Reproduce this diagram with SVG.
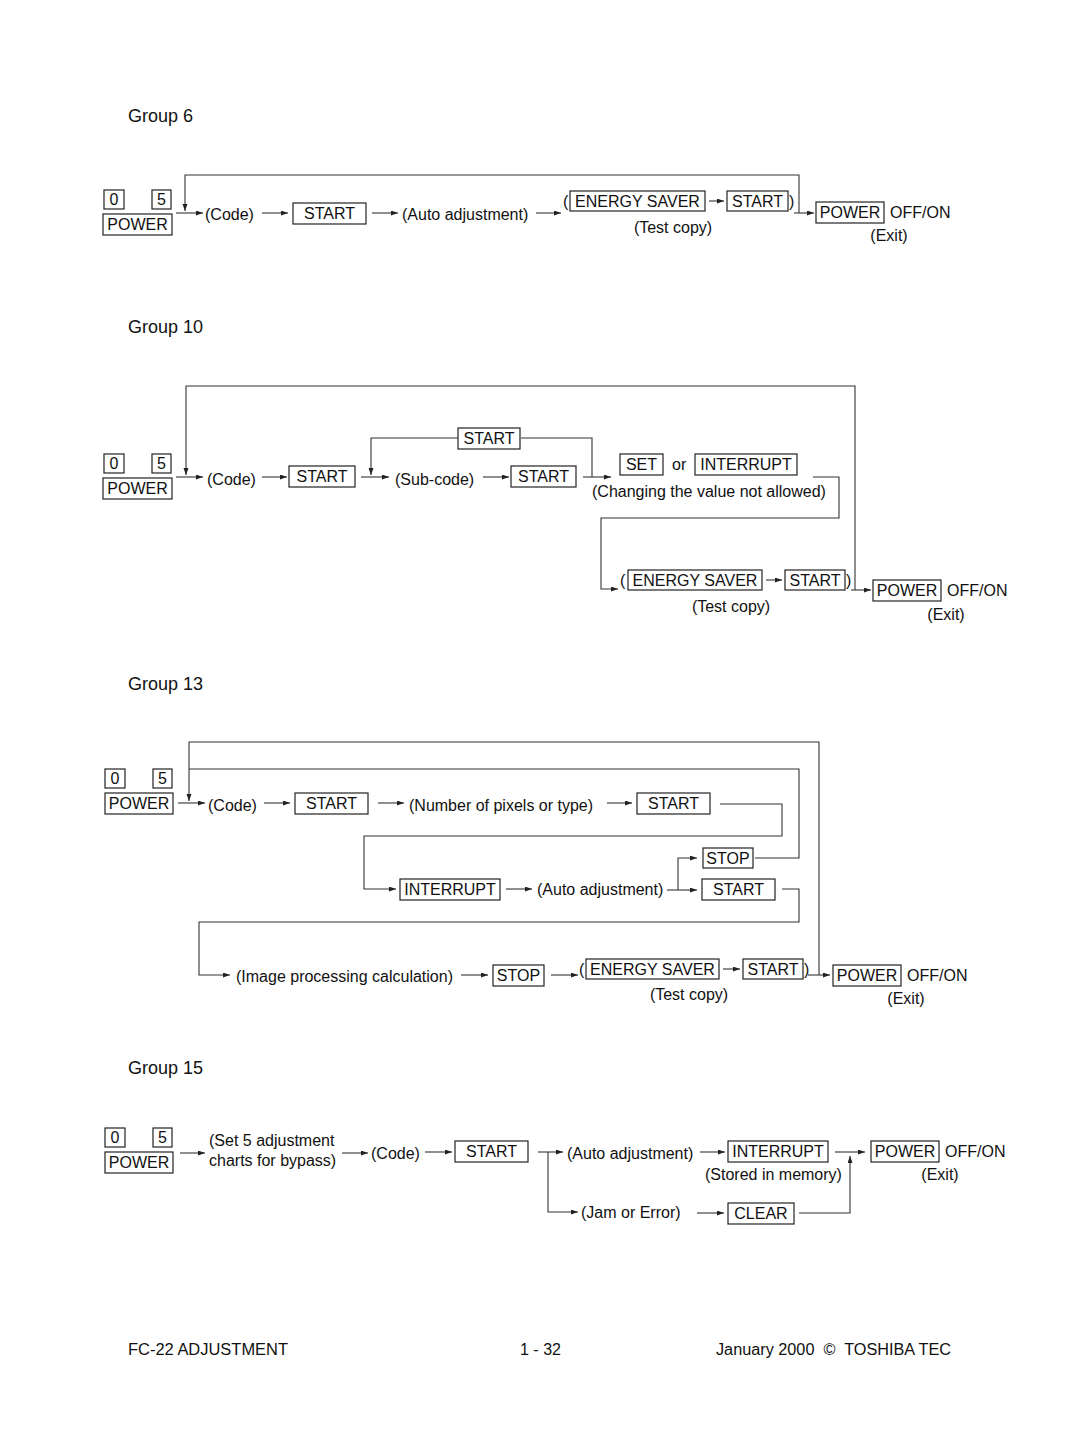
<svg xmlns="http://www.w3.org/2000/svg" width="1080" height="1439" viewBox="0 0 1080 1439">
<defs>
<marker id="ah" markerUnits="userSpaceOnUse" markerWidth="8" markerHeight="6" refX="7" refY="2.5" orient="auto">
<path d="M0,0 L7,2.5 L0,5 z" fill="#222"/>
</marker>
<style>
text{font-family:"Liberation Sans",Arial,sans-serif;font-size:16px;fill:#111}
.g{font-size:18px}
.b{fill:none;stroke:#222;stroke-width:1.2}
.bt{text-anchor:middle}
.c{text-anchor:middle}
.ln{fill:none;stroke:#333;stroke-width:1.1}
.ar{fill:none;stroke:#333;stroke-width:1.1;marker-end:url(#ah)}
</style>
</defs>
<rect width="1080" height="1439" fill="#fff"/>

<!-- ================= Group 6 ================= -->
<text class="g" x="128" y="122">Group 6</text>
<g id="g6-keys">
<rect class="b" x="104" y="190" width="20" height="19"/><text class="bt" x="114" y="205">0</text>
<rect class="b" x="152" y="190" width="19" height="19"/><text class="bt" x="161.5" y="205">5</text>
<rect class="b" x="103" y="214" width="69" height="21"/><text class="bt" x="137.5" y="230">POWER</text>
</g>
<g id="g6-code"><text x="205" y="220">(Code)</text></g>
<g id="g6-start"><rect class="b" x="293" y="203" width="73" height="21"/><text class="bt" x="329.5" y="219">START</text></g>
<g id="g6-auto"><text x="402" y="220">(Auto adjustment)</text></g>
<g id="g6-test">
<text x="563" y="207">(</text>
<rect class="b" x="570" y="191" width="135" height="20"/><text class="bt" x="637.5" y="207">ENERGY SAVER</text>
<rect class="b" x="727" y="191" width="61" height="20"/><text class="bt" x="757.5" y="207">START</text>
<text x="789" y="207">)</text>
<text class="c" x="673" y="233">(Test copy)</text>
</g>
<g id="g6-exit">
<rect class="b" x="816" y="202" width="68" height="21"/><text class="bt" x="850" y="218">POWER</text>
<text x="890" y="218">OFF/ON</text>
<text class="c" x="889" y="241">(Exit)</text>
</g>
<g id="g6-connectors">
<path class="ar" d="M176,213 H203"/>
<path class="ar" d="M799,213 V175 H185 V211"/>
<path class="ar" d="M262,213 H288"/>
<path class="ar" d="M372,213 H398"/>
<path class="ar" d="M536,213 H561"/>
<path class="ar" d="M709,201 H724"/>
<path class="ar" d="M794,213 H814"/>
</g>

<!-- ================= Group 10 ================= -->
<text class="g" x="128" y="333">Group 10</text>
<g id="g10-keys">
<rect class="b" x="104" y="454" width="20" height="19"/><text class="bt" x="114" y="469">0</text>
<rect class="b" x="152" y="454" width="19" height="19"/><text class="bt" x="161.5" y="469">5</text>
<rect class="b" x="103" y="478" width="69" height="21"/><text class="bt" x="137.5" y="494">POWER</text>
</g>
<g id="g10-code"><text x="207" y="485">(Code)</text></g>
<g id="g10-start1"><rect class="b" x="289" y="466" width="66" height="21"/><text class="bt" x="322" y="482">START</text></g>
<g id="g10-start-loop"><rect class="b" x="458" y="428" width="62" height="21"/><text class="bt" x="489" y="444">START</text></g>
<g id="g10-subcode"><text x="395" y="485">(Sub-code)</text></g>
<g id="g10-start2"><rect class="b" x="511" y="466" width="65" height="21"/><text class="bt" x="543.5" y="482">START</text></g>
<g id="g10-set">
<rect class="b" x="620" y="454" width="43" height="21"/><text class="bt" x="641.5" y="470">SET</text>
<text x="672" y="470">or</text>
<rect class="b" x="695" y="454" width="102" height="21"/><text class="bt" x="746" y="470">INTERRUPT</text>
<text x="592" y="497">(Changing the value not allowed)</text>
</g>
<g id="g10-test">
<text x="620" y="586">(</text>
<rect class="b" x="628" y="570" width="134" height="20"/><text class="bt" x="695" y="586">ENERGY SAVER</text>
<rect class="b" x="785" y="570" width="60" height="20"/><text class="bt" x="815" y="586">START</text>
<text x="846" y="586">)</text>
<text class="c" x="731" y="612">(Test copy)</text>
</g>
<g id="g10-exit">
<rect class="b" x="873" y="580" width="68" height="21"/><text class="bt" x="907" y="596">POWER</text>
<text x="947" y="596">OFF/ON</text>
<text class="c" x="946" y="620">(Exit)</text>
</g>
<g id="g10-connectors">
<path class="ar" d="M176,477 H203"/>
<path class="ar" d="M855,590 V386 H186 V475"/>
<path class="ar" d="M262,477 H287"/>
<path class="ar" d="M361,477 H389"/>
<path class="ln" d="M592,477 V438 H521"/>
<path class="ar" d="M458,438 H371 V475"/>
<path class="ar" d="M483,477 H509"/>
<path class="ar" d="M583,477 H611"/>
<path class="ar" d="M813,477 H839 V518 H601 V589 H618"/>
<path class="ar" d="M766,580 H782"/>
<path class="ar" d="M851,590 H871"/>
</g>

<!-- ================= Group 13 ================= -->
<text class="g" x="128" y="690">Group 13</text>
<g id="g13-keys">
<rect class="b" x="105" y="769" width="20" height="19"/><text class="bt" x="115" y="784">0</text>
<rect class="b" x="153" y="769" width="19" height="19"/><text class="bt" x="162.5" y="784">5</text>
<rect class="b" x="105" y="793" width="68" height="21"/><text class="bt" x="139" y="809">POWER</text>
</g>
<g id="g13-code"><text x="208" y="811">(Code)</text></g>
<g id="g13-start1"><rect class="b" x="295" y="793" width="73" height="21"/><text class="bt" x="331.5" y="809">START</text></g>
<g id="g13-pixels"><text x="409" y="811">(Number of pixels or type)</text></g>
<g id="g13-start2"><rect class="b" x="637" y="793" width="73" height="21"/><text class="bt" x="673.5" y="809">START</text></g>
<g id="g13-interrupt"><rect class="b" x="400" y="879" width="100" height="21"/><text class="bt" x="450" y="895">INTERRUPT</text></g>
<g id="g13-auto"><text x="537" y="895">(Auto adjustment)</text></g>
<g id="g13-stop1"><rect class="b" x="703" y="848" width="50" height="20"/><text class="bt" x="728" y="864">STOP</text></g>
<g id="g13-start3"><rect class="b" x="702" y="879" width="73" height="21"/><text class="bt" x="738.5" y="895">START</text></g>
<g id="g13-image"><text x="236" y="982">(Image processing calculation)</text></g>
<g id="g13-stop2"><rect class="b" x="493" y="965" width="51" height="21"/><text class="bt" x="518.5" y="981">STOP</text></g>
<g id="g13-test">
<text x="579" y="975">(</text>
<rect class="b" x="586" y="959" width="133" height="20"/><text class="bt" x="652.5" y="975">ENERGY SAVER</text>
<rect class="b" x="743" y="959" width="60" height="20"/><text class="bt" x="773" y="975">START</text>
<text x="804" y="975">)</text>
<text class="c" x="689" y="1000">(Test copy)</text>
</g>
<g id="g13-exit">
<rect class="b" x="833" y="965" width="68" height="21"/><text class="bt" x="867" y="981">POWER</text>
<text x="907" y="981">OFF/ON</text>
<text class="c" x="906" y="1004">(Exit)</text>
</g>
<g id="g13-connectors">
<path class="ar" d="M178,803 H205"/>
<path class="ar" d="M819,975 V742 H189 V801"/>
<path class="ln" d="M755,858 H799 V769 H189"/>
<path class="ar" d="M264,803 H290"/>
<path class="ar" d="M378,803 H404"/>
<path class="ar" d="M607,803 H632"/>
<path class="ar" d="M720,804 H782 V836 H364 V889 H396"/>
<path class="ar" d="M506,889 H532"/>
<path class="ln" d="M667,890 H678"/>
<path class="ar" d="M678,890 V858 H697"/>
<path class="ar" d="M678,890 H697"/>
<path class="ar" d="M782,889 H799 V922 H199 V975 H230"/>
<path class="ar" d="M461,975 H488"/>
<path class="ar" d="M551,975 H578"/>
<path class="ar" d="M723,969 H740"/>
<path class="ar" d="M808,975 H830"/>
</g>

<!-- ================= Group 15 ================= -->
<text class="g" x="128" y="1074">Group 15</text>
<g id="g15-keys">
<rect class="b" x="105" y="1128" width="20" height="19"/><text class="bt" x="115" y="1143">0</text>
<rect class="b" x="153" y="1128" width="19" height="19"/><text class="bt" x="162.5" y="1143">5</text>
<rect class="b" x="105" y="1152" width="68" height="21"/><text class="bt" x="139" y="1168">POWER</text>
</g>
<g id="g15-set"><text x="209" y="1146">(Set 5 adjustment</text><text x="209" y="1166">charts for bypass)</text></g>
<g id="g15-code"><text x="371" y="1159">(Code)</text></g>
<g id="g15-start"><rect class="b" x="455" y="1141" width="73" height="21"/><text class="bt" x="491.5" y="1157">START</text></g>
<g id="g15-auto"><text x="567" y="1159">(Auto adjustment)</text></g>
<g id="g15-interrupt">
<rect class="b" x="728" y="1141" width="100" height="21"/><text class="bt" x="778" y="1157">INTERRUPT</text>
<text x="705" y="1180">(Stored in memory)</text>
</g>
<g id="g15-exit">
<rect class="b" x="871" y="1141" width="68" height="21"/><text class="bt" x="905" y="1157">POWER</text>
<text x="945" y="1157">OFF/ON</text>
<text class="c" x="940" y="1180">(Exit)</text>
</g>
<g id="g15-jam"><text x="581" y="1218">(Jam or Error)</text></g>
<g id="g15-clear"><rect class="b" x="728" y="1203" width="66" height="21"/><text class="bt" x="761" y="1219">CLEAR</text></g>
<g id="g15-connectors">
<path class="ar" d="M180,1153 H205"/>
<path class="ar" d="M342,1153 H368"/>
<path class="ar" d="M425,1152 H452"/>
<path class="ar" d="M538,1152 H563"/>
<path class="ar" d="M548,1152 V1212 H578"/>
<path class="ar" d="M700,1152 H725"/>
<path class="ar" d="M835,1152 H865"/>
<path class="ar" d="M799,1213 H850 V1156"/>
<path class="ar" d="M697,1213 H724"/>
</g>

<!-- footer -->
<text x="128" y="1355" textLength="160" lengthAdjust="spacingAndGlyphs">FC-22 ADJUSTMENT</text>
<text x="520" y="1355" textLength="41" lengthAdjust="spacingAndGlyphs">1 - 32</text>
<text x="716" y="1355" textLength="235" lengthAdjust="spacingAndGlyphs" xml:space="preserve">January 2000  ©  TOSHIBA TEC</text>
</svg>
